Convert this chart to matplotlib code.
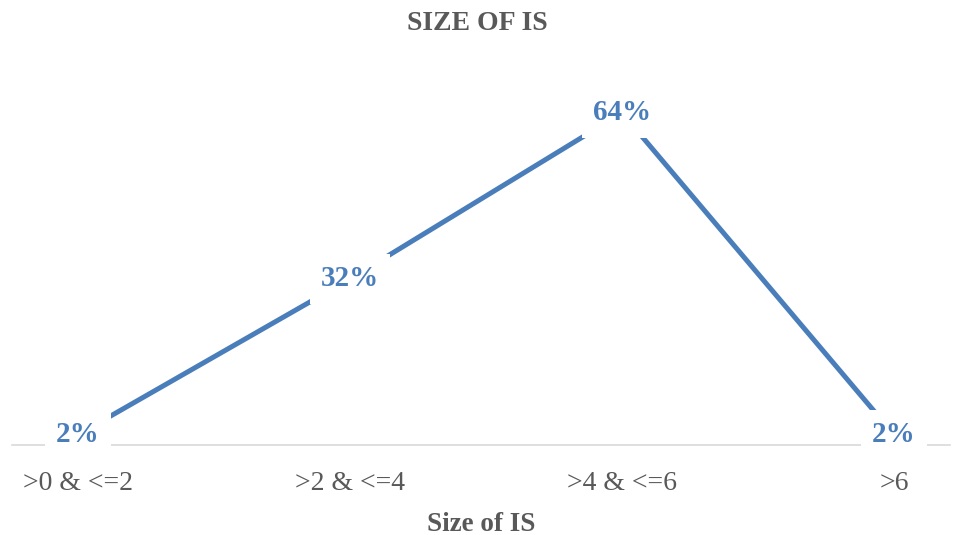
import matplotlib.pyplot as plt

categories = [">0 & <=2", ">2 & <=4", ">4 & <=6", ">6"]
values = [2, 32, 64, 2]

LINE_COLOR = "#4a7ebb"
TEXT_GREY = "#595959"

plt.rcParams["font.family"] = ["Liberation Serif", "DejaVu Serif"]

fig = plt.figure(figsize=(9.54, 5.35), dpi=100)
ax = fig.add_axes([12 / 954, 90 / 535, 938 / 954, 385 / 535])

x = list(range(len(categories)))
ax.plot(x, values, color=LINE_COLOR, linewidth=3.6, solid_capstyle="butt", zorder=2)

for xi, v in zip(x, values):
    ax.text(xi, v, f"{v}%", ha="center", va="center", fontsize=21,
            fontweight="bold", color=LINE_COLOR, zorder=3,
            bbox=dict(facecolor="white", edgecolor="none", pad=8))

ax.set_xlim(-0.243, 3.206)
ax.set_ylim(0, 74.2)
ax.set_xticks(x)
ax.set_xticklabels(categories, fontsize=20, color=TEXT_GREY)
ax.tick_params(axis="x", length=0, pad=19)
ax.set_yticks([])

for side in ["left", "right", "top"]:
    ax.spines[side].set_visible(False)
ax.spines["bottom"].set_color("#d9d9d9")
ax.spines["bottom"].set_linewidth(1.2)
ax.spines["bottom"].set_zorder(1)

ax.set_xlabel("Size of IS", fontsize=19.5, fontweight="bold", color=TEXT_GREY, labelpad=11)
fig.text(0.5, 1 - 23 / 535, "SIZE OF IS", ha="center", va="center",
         fontsize=20, fontweight="bold", color=TEXT_GREY)

fig.savefig("out.png", dpi=100)
